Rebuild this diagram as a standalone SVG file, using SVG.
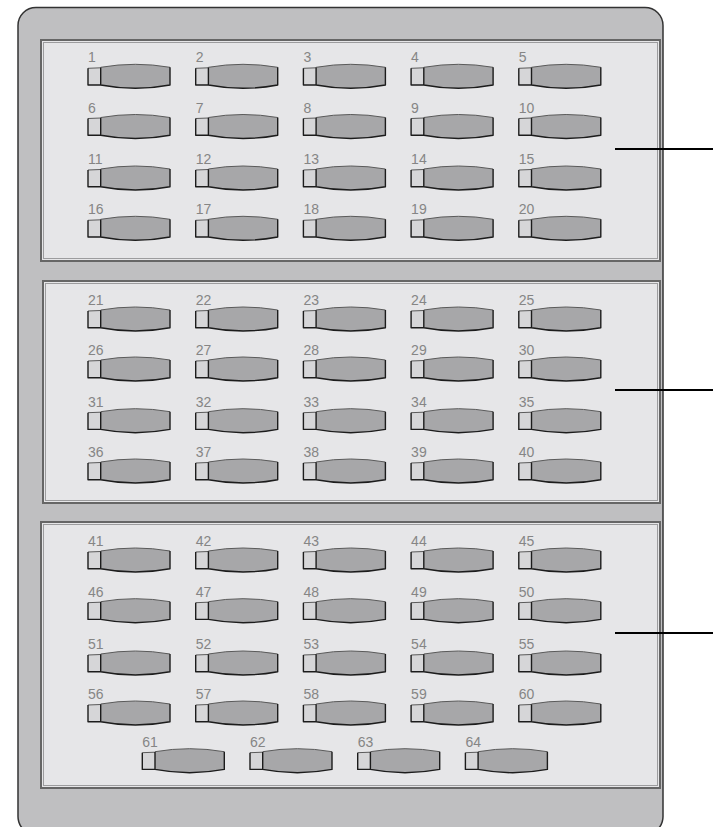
<svg xmlns="http://www.w3.org/2000/svg" xmlns:xlink="http://www.w3.org/1999/xlink" width="713" height="827" viewBox="0 0 713 827">
<style>
.lbl{font-family:"Liberation Sans",Arial,sans-serif;font-size:14px;fill:#858585}
.cap{fill:#d6d6d8;stroke:none}
.kb{fill:#a7a7a9;stroke:none}
.et{fill:none;stroke:#5a5a5a;stroke-width:1}
.ed{fill:none;stroke:#1c1c1c;stroke-width:1.4;stroke-linejoin:round}
.panel{fill:#e6e6e8;stroke:#666;stroke-width:2}
.pin{fill:none;stroke:#9c9c9e;stroke-width:1}
.lead{stroke:#000;stroke-width:2}
</style>
<defs>
<g id="key">
<path class="cap" d="M0,1 L12.7,0.5 L12.7,17.7 L0,17.7 Z"/>
<path class="kb" d="M12.7,0 Q47.35,-6 82,0 L82,17.7 Q47.35,24.3 12.7,17.7 Z"/>
<path class="et" d="M12.7,0 Q47.35,-6 82,0 M0,1 L12.7,0.5"/>
<path class="ed" d="M0,1 V17.7 L12.7,17.7 Q47.35,24.3 82,17.7 V0 M12.7,0.3 V17.7"/>
</g>
</defs>
<g id="housing">
<rect x="18" y="7.5" width="645" height="827" rx="18" fill="#bfbfc1" stroke="#333" stroke-width="1.5"/>
</g>
<g id="panel-1"><rect class="panel" x="41" y="40" width="619" height="221"/><rect class="pin" x="43.5" y="42.5" width="614" height="216"/></g>
<g id="panel-2"><rect class="panel" x="43" y="281" width="617" height="222"/><rect class="pin" x="45.5" y="283.5" width="612" height="217"/></g>
<g id="panel-3"><rect class="panel" x="41" y="522" width="619" height="266"/><rect class="pin" x="43.5" y="524.5" width="614" height="261"/></g>
<g id="connectors">
<line class="lead" x1="615" y1="149" x2="713" y2="149"/>
<line class="lead" x1="615" y1="390" x2="713" y2="390"/>
<line class="lead" x1="615" y1="633" x2="713" y2="633"/>
</g>
<g id="key-1" transform="translate(88,67.3)"><use href="#key"/><text class="lbl" x="0" y="-5">1</text></g>
<g id="key-2" transform="translate(195.7,67.3)"><use href="#key"/><text class="lbl" x="0" y="-5">2</text></g>
<g id="key-3" transform="translate(303.4,67.3)"><use href="#key"/><text class="lbl" x="0" y="-5">3</text></g>
<g id="key-4" transform="translate(411.1,67.3)"><use href="#key"/><text class="lbl" x="0" y="-5">4</text></g>
<g id="key-5" transform="translate(518.8,67.3)"><use href="#key"/><text class="lbl" x="0" y="-5">5</text></g>
<g id="key-6" transform="translate(88,117.5)"><use href="#key"/><text class="lbl" x="0" y="-5">6</text></g>
<g id="key-7" transform="translate(195.7,117.5)"><use href="#key"/><text class="lbl" x="0" y="-5">7</text></g>
<g id="key-8" transform="translate(303.4,117.5)"><use href="#key"/><text class="lbl" x="0" y="-5">8</text></g>
<g id="key-9" transform="translate(411.1,117.5)"><use href="#key"/><text class="lbl" x="0" y="-5">9</text></g>
<g id="key-10" transform="translate(518.8,117.5)"><use href="#key"/><text class="lbl" x="0" y="-5">10</text></g>
<g id="key-11" transform="translate(88,169)"><use href="#key"/><text class="lbl" x="0" y="-5">11</text></g>
<g id="key-12" transform="translate(195.7,169)"><use href="#key"/><text class="lbl" x="0" y="-5">12</text></g>
<g id="key-13" transform="translate(303.4,169)"><use href="#key"/><text class="lbl" x="0" y="-5">13</text></g>
<g id="key-14" transform="translate(411.1,169)"><use href="#key"/><text class="lbl" x="0" y="-5">14</text></g>
<g id="key-15" transform="translate(518.8,169)"><use href="#key"/><text class="lbl" x="0" y="-5">15</text></g>
<g id="key-16" transform="translate(88,219.3)"><use href="#key"/><text class="lbl" x="0" y="-5">16</text></g>
<g id="key-17" transform="translate(195.7,219.3)"><use href="#key"/><text class="lbl" x="0" y="-5">17</text></g>
<g id="key-18" transform="translate(303.4,219.3)"><use href="#key"/><text class="lbl" x="0" y="-5">18</text></g>
<g id="key-19" transform="translate(411.1,219.3)"><use href="#key"/><text class="lbl" x="0" y="-5">19</text></g>
<g id="key-20" transform="translate(518.8,219.3)"><use href="#key"/><text class="lbl" x="0" y="-5">20</text></g>
<g id="key-21" transform="translate(88,310)"><use href="#key"/><text class="lbl" x="0" y="-5">21</text></g>
<g id="key-22" transform="translate(195.7,310)"><use href="#key"/><text class="lbl" x="0" y="-5">22</text></g>
<g id="key-23" transform="translate(303.4,310)"><use href="#key"/><text class="lbl" x="0" y="-5">23</text></g>
<g id="key-24" transform="translate(411.1,310)"><use href="#key"/><text class="lbl" x="0" y="-5">24</text></g>
<g id="key-25" transform="translate(518.8,310)"><use href="#key"/><text class="lbl" x="0" y="-5">25</text></g>
<g id="key-26" transform="translate(88,360)"><use href="#key"/><text class="lbl" x="0" y="-5">26</text></g>
<g id="key-27" transform="translate(195.7,360)"><use href="#key"/><text class="lbl" x="0" y="-5">27</text></g>
<g id="key-28" transform="translate(303.4,360)"><use href="#key"/><text class="lbl" x="0" y="-5">28</text></g>
<g id="key-29" transform="translate(411.1,360)"><use href="#key"/><text class="lbl" x="0" y="-5">29</text></g>
<g id="key-30" transform="translate(518.8,360)"><use href="#key"/><text class="lbl" x="0" y="-5">30</text></g>
<g id="key-31" transform="translate(88,411.7)"><use href="#key"/><text class="lbl" x="0" y="-5">31</text></g>
<g id="key-32" transform="translate(195.7,411.7)"><use href="#key"/><text class="lbl" x="0" y="-5">32</text></g>
<g id="key-33" transform="translate(303.4,411.7)"><use href="#key"/><text class="lbl" x="0" y="-5">33</text></g>
<g id="key-34" transform="translate(411.1,411.7)"><use href="#key"/><text class="lbl" x="0" y="-5">34</text></g>
<g id="key-35" transform="translate(518.8,411.7)"><use href="#key"/><text class="lbl" x="0" y="-5">35</text></g>
<g id="key-36" transform="translate(88,462)"><use href="#key"/><text class="lbl" x="0" y="-5">36</text></g>
<g id="key-37" transform="translate(195.7,462)"><use href="#key"/><text class="lbl" x="0" y="-5">37</text></g>
<g id="key-38" transform="translate(303.4,462)"><use href="#key"/><text class="lbl" x="0" y="-5">38</text></g>
<g id="key-39" transform="translate(411.1,462)"><use href="#key"/><text class="lbl" x="0" y="-5">39</text></g>
<g id="key-40" transform="translate(518.8,462)"><use href="#key"/><text class="lbl" x="0" y="-5">40</text></g>
<g id="key-41" transform="translate(88,551)"><use href="#key"/><text class="lbl" x="0" y="-5">41</text></g>
<g id="key-42" transform="translate(195.7,551)"><use href="#key"/><text class="lbl" x="0" y="-5">42</text></g>
<g id="key-43" transform="translate(303.4,551)"><use href="#key"/><text class="lbl" x="0" y="-5">43</text></g>
<g id="key-44" transform="translate(411.1,551)"><use href="#key"/><text class="lbl" x="0" y="-5">44</text></g>
<g id="key-45" transform="translate(518.8,551)"><use href="#key"/><text class="lbl" x="0" y="-5">45</text></g>
<g id="key-46" transform="translate(88,601.7)"><use href="#key"/><text class="lbl" x="0" y="-5">46</text></g>
<g id="key-47" transform="translate(195.7,601.7)"><use href="#key"/><text class="lbl" x="0" y="-5">47</text></g>
<g id="key-48" transform="translate(303.4,601.7)"><use href="#key"/><text class="lbl" x="0" y="-5">48</text></g>
<g id="key-49" transform="translate(411.1,601.7)"><use href="#key"/><text class="lbl" x="0" y="-5">49</text></g>
<g id="key-50" transform="translate(518.8,601.7)"><use href="#key"/><text class="lbl" x="0" y="-5">50</text></g>
<g id="key-51" transform="translate(88,654)"><use href="#key"/><text class="lbl" x="0" y="-5">51</text></g>
<g id="key-52" transform="translate(195.7,654)"><use href="#key"/><text class="lbl" x="0" y="-5">52</text></g>
<g id="key-53" transform="translate(303.4,654)"><use href="#key"/><text class="lbl" x="0" y="-5">53</text></g>
<g id="key-54" transform="translate(411.1,654)"><use href="#key"/><text class="lbl" x="0" y="-5">54</text></g>
<g id="key-55" transform="translate(518.8,654)"><use href="#key"/><text class="lbl" x="0" y="-5">55</text></g>
<g id="key-56" transform="translate(88,704)"><use href="#key"/><text class="lbl" x="0" y="-5">56</text></g>
<g id="key-57" transform="translate(195.7,704)"><use href="#key"/><text class="lbl" x="0" y="-5">57</text></g>
<g id="key-58" transform="translate(303.4,704)"><use href="#key"/><text class="lbl" x="0" y="-5">58</text></g>
<g id="key-59" transform="translate(411.1,704)"><use href="#key"/><text class="lbl" x="0" y="-5">59</text></g>
<g id="key-60" transform="translate(518.8,704)"><use href="#key"/><text class="lbl" x="0" y="-5">60</text></g>
<g id="key-61" transform="translate(142.3,751.7)"><use href="#key"/><text class="lbl" x="0" y="-5">61</text></g>
<g id="key-62" transform="translate(250,751.7)"><use href="#key"/><text class="lbl" x="0" y="-5">62</text></g>
<g id="key-63" transform="translate(357.7,751.7)"><use href="#key"/><text class="lbl" x="0" y="-5">63</text></g>
<g id="key-64" transform="translate(465.4,751.7)"><use href="#key"/><text class="lbl" x="0" y="-5">64</text></g>
</svg>
